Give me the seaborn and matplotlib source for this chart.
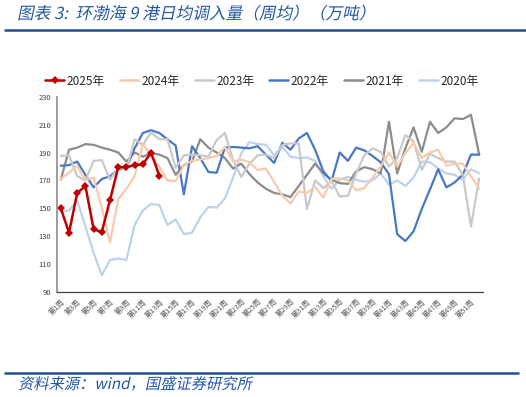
import numpy as np
import pandas as pd
import matplotlib.pyplot as plt
import seaborn as sns
from matplotlib.lines import Line2D
from matplotlib.ticker import FixedLocator
from matplotlib.transforms import Affine2D
from matplotlib import patheffects

sns.set_style("white")
plt.rcParams['font.family'] = ['Noto Sans CJK SC', 'DejaVu Sans']

weeks = list(range(1, 53))
week_labels = ["第%d周" % w for w in weeks]

y2025 = [150, 132.5, 161, 166, 135, 133, 156, 179.5, 179.5, 181, 181.5, 190, 173.5]
y2024 = [171, 175.5, 180.5, 170, 172, 150, 125.5, 156.5, 164, 173, 196.5, 187, 180,
         170, 169.5, 181, 184, 185, 186, 187.5, 194, 183.5, 185, 183, 177.5, 178.5,
         169, 159, 153.5, 162, 161, 165.5, 157.5, 171, 171.5, 170, 163, 164.5, 172,
         180, 190, 180, 189.5, 197, 186, 190, 192, 180.5, 182, 182, 173, 164]
y2023 = [187.5, 188, 173, 170, 184, 184.5, 170.5, 179.5, 177.5, 199.5, 195.5, 204.5, 199.5,
         199.5, 179, 188, 188.5, 188, 187, 199, 204, 184.5, 172.5, 182, 188, 188.5,
         186, 195.5, 196.5, 196.5, 149.5, 170, 164.5, 169.5, 158.5, 159, 175, 188, 193,
         190.5, 180, 186, 202.5, 198, 177.5, 189, 186, 183.5, 183.5, 174, 137, 171.5]
y2022 = [180.5, 181, 183.5, 174, 165, 171, 173, 178, 179, 193, 204, 206, 204,
         199.5, 195, 160, 194.5, 186, 176, 175.5, 193.5, 194, 193.5, 193, 194.5, 188.5,
         182.5, 197, 192, 200, 204, 192, 176.5, 169.5, 190, 184, 193.5, 191.5, 187.5,
         183, 174.5, 131.5, 126.5, 133.5, 149.5, 163.5, 178, 165, 168.5, 174, 188.5, 188.5]
y2021 = [170.5, 192, 193.5, 196, 195.5, 193.5, 192, 190, 183.5, 190, 187, 189.5, 188.5,
         186, 174, 181, 183.5, 199.5, 193.5, 190, 186, 178.5, 182, 174.5, 168.5, 164,
         161, 160, 158, 166, 174, 182, 175, 170.5, 168, 167.5, 176.5, 179.5, 178,
         175, 212, 175, 193, 208, 190.5, 212, 204, 208, 214.5, 214, 217, 188.5]
y2020 = [147.5, 148.5, 155.5, 137, 118, 102, 113, 114, 113, 138, 148.5, 153, 152.5,
         138, 142, 131.5, 132.5, 143.5, 151, 150.5, 157, 172, 189.5, 197.5, 196, 195.5,
         188, 194, 187, 186, 186.5, 184, 173, 164, 170.5, 172.5, 170.5, 169, 170,
         175, 167, 170, 166, 172, 183.5, 183, 178.5, 175, 174, 170.5, 178, 175]

series = {
    "2025年": y2025, "2024年": y2024, "2023年": y2023,
    "2022年": y2022, "2021年": y2021, "2020年": y2020,
}
colors = {
    "2025年": "#C00000", "2024年": "#F8CBAD", "2023年": "#C9C9C9",
    "2022年": "#4878C6", "2021年": "#8C8C8C", "2020年": "#BDD2EE",
}


class Slant(patheffects.AbstractPathEffect):
    """fake italic: skew the glyph paths around the text baseline"""
    def __init__(self, y0, deg=12):
        super().__init__()
        self.y0 = y0
        self.deg = deg

    def draw_path(self, renderer, gc, tpath, affine, rgbFace=None):
        sk = Affine2D().translate(0, -self.y0).skew_deg(self.deg, 0).translate(0, self.y0)
        renderer.draw_path(gc, tpath, affine + sk, rgbFace)


fig = plt.figure(figsize=(5.26, 3.97), dpi=100)
ax = fig.add_axes([0.1078, 0.2645, 0.811, 0.4919])

# draw oldest first so 2025 ends up on top
for name in ["2020年", "2021年", "2022年", "2023年", "2024年", "2025年"]:
    vals = series[name]
    df = pd.DataFrame({"week": weeks[:len(vals)], "value": vals})
    if name == "2025年":
        sns.lineplot(x="week", y="value", data=df, ax=ax, color=colors[name], lw=1.8,
                     marker="D", markersize=4, markeredgewidth=0, legend=False)
    else:
        sns.lineplot(x="week", y="value", data=df, ax=ax, color=colors[name], lw=1.6,
                     legend=False)

ax.set_xlim(0.5, 52.5)
ax.set_ylim(90, 230)
ax.set_yticks(np.arange(90, 231, 20))
ax.set_xlabel("")
ax.set_ylabel("")
ax.tick_params(axis="y", labelsize=5.5, colors="#404040", length=2, width=0.6, direction="out", pad=2)
ax.set_xticks(weeks[::2])
ax.set_xticklabels(week_labels[::2], rotation=45, ha="right", va="top",
                   rotation_mode="anchor", fontsize=5.2, color="#595959")
ax.tick_params(axis="x", which="major", length=0, pad=4)
ax.xaxis.set_minor_locator(FixedLocator(np.arange(0.5, 53, 1)))
ax.tick_params(axis="x", which="minor", length=3, width=0.7, direction="in", color="#404040")
for s in ["top", "right"]:
    ax.spines[s].set_visible(False)
ax.spines["left"].set_color("#8C8C8C")
ax.spines["left"].set_linewidth(1.2)
ax.spines["bottom"].set_color("#404040")
ax.spines["bottom"].set_linewidth(0.9)

# legend in the report order
handles = []
for name in series:
    if name == "2025年":
        handles.append(Line2D([], [], color=colors[name], lw=1.8, marker="D", markersize=4, markeredgewidth=0))
    else:
        handles.append(Line2D([], [], color=colors[name], lw=1.8))
fig.legend(handles, list(series.keys()), loc="center", bbox_to_anchor=(0.498, 1 - 81 / 397),
           ncol=6, frameon=False, fontsize=8.5, handlelength=1.6, columnspacing=1.3,
           handletextpad=0.2)

# title and source, report style
fig.text(17 / 526, 1 - 19 / 397, "图表 3:  环渤海 9 港日均调入量（周均）（万吨）",
         ha="left", va="baseline", fontsize=12, color="#2458A6",
         path_effects=[Slant(397 - 19)])
fig.add_artist(Line2D([5 / 526, 1.0], [1 - 30 / 397] * 2, color="#1F4E9A", lw=1.8))
fig.add_artist(Line2D([5 / 526, 518 / 526], [1 - 373 / 397] * 2, color="#1F4E9A", lw=1.8))
fig.text(18 / 526, 1 - 389 / 397, "资料来源：wind，国盛证券研究所",
         ha="left", va="baseline", fontsize=11, color="#2458A6",
         path_effects=[Slant(397 - 389)])

plt.savefig("out.png", dpi=100)
